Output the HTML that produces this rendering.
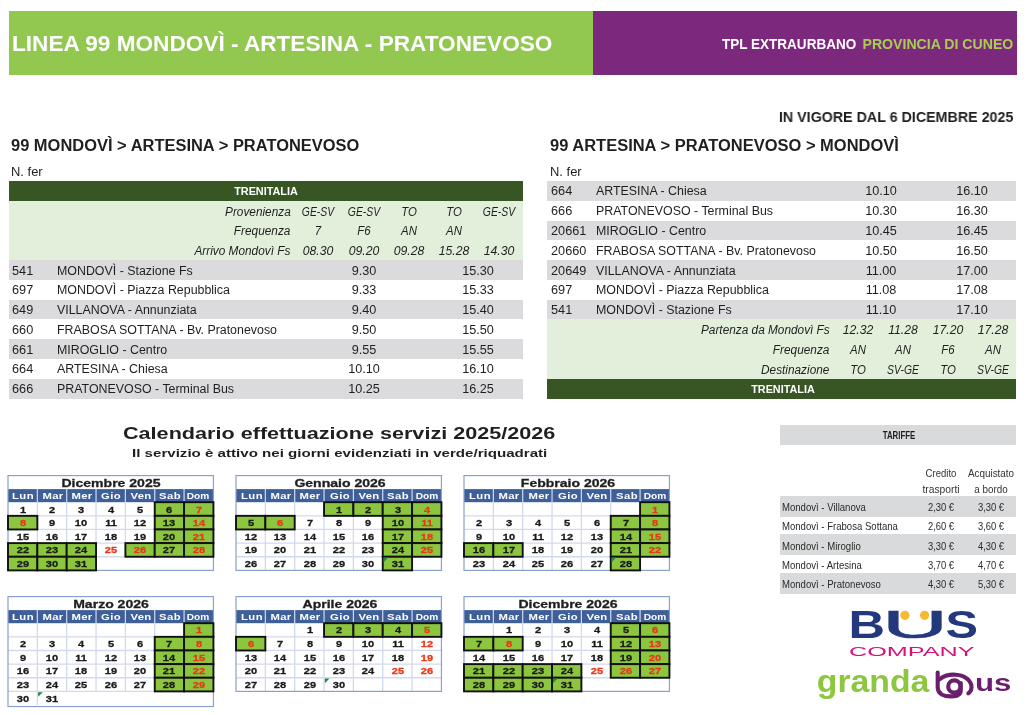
<!DOCTYPE html>
<html lang="it"><head><meta charset="utf-8"><title>Linea 99 Mondovì - Artesina - Pratonevoso</title>
<style>
html,body{margin:0;padding:0;background:#fff}
body{width:1028px;height:715px;overflow:hidden;position:relative;font-family:"Liberation Sans",sans-serif;color:#1f1f1f}
.t{position:absolute;white-space:nowrap;line-height:1;display:inline-block}
.r{position:absolute}
.cal{position:absolute;overflow:visible}
.k{-webkit-text-stroke:.3px currentColor}
header,section{display:contents}
#page{position:absolute;left:0;top:0;width:1028px;height:715px;will-change:transform}
</style></head>
<body>
<main id="page">
<header>
<div class="r" style="left:9.00px;top:11.00px;width:584.00px;height:63.50px;background:#92c850;"></div>
<div class="r" style="left:593.00px;top:11.00px;width:424.00px;height:63.50px;background:#7c287d;"></div>
<span class="t" style="top:33.32px;font-size:22.3px;font-weight:700;color:#fff;left:11.90px;transform-origin:0 0;transform:scaleX(1.0137)">LINEA 99 MONDOVÌ - ARTESINA - PRATONEVOSO</span>
<span class="t" style="top:36.30px;font-size:15px;font-weight:700;color:#fff;left:722.40px;transform-origin:0 0;transform:scaleX(0.9013)">TPL EXTRAURBANO</span>
<span class="t" style="top:36.30px;font-size:15px;font-weight:700;color:#a6cf4f;right:14.70px;transform-origin:100% 0;transform:scaleX(0.9408)">PROVINCIA DI CUNEO</span>
</header>
<span class="t" style="top:110.26px;font-size:14.7px;font-weight:700;right:14.80px;transform-origin:100% 0;transform:scaleX(0.9713)">IN VIGORE DAL 6 DICEMBRE 2025</span>
<span class="t" style="top:138.19px;font-size:15.6px;font-weight:700;left:11.20px;transform-origin:0 0;transform:scaleX(1.0552)">99 MONDOVÌ &gt; ARTESINA &gt; PRATONEVOSO</span>
<span class="t" style="top:138.19px;font-size:15.6px;font-weight:700;left:550.00px;transform-origin:0 0;transform:scaleX(1.0567)">99 ARTESINA &gt; PRATONEVOSO &gt; MONDOVÌ</span>
<span class="t" style="top:166.24px;font-size:12px;left:10.70px;transform-origin:0 0;transform:scaleX(1.0800)">N. fer</span>
<span class="t" style="top:166.24px;font-size:12px;left:549.60px;transform-origin:0 0;transform:scaleX(1.0800)">N. fer</span>
<section id="andata">
<div class="r" style="left:9.00px;top:181.00px;width:514.00px;height:20.78px;background:#375623;"></div>
<span class="t" style="top:185.79px;font-size:11px;font-weight:700;color:#fff;left:266.30px;transform-origin:50% 0;transform:translateX(-50%) scaleX(0.9850)">TRENITALIA</span>
<div class="r" style="left:9.00px;top:200.78px;width:514.00px;height:60.34px;background:#e2efda;"></div>
<span class="t" style="top:205.62px;font-size:12.0px;font-style:italic;right:737.30px;transform-origin:100% 0;transform:scaleX(0.9850)">Provenienza</span>
<span class="t" style="top:205.62px;font-size:12.0px;font-style:italic;left:318.00px;transform-origin:50% 0;transform:translateX(-50%) scaleX(0.8650)">GE-SV</span>
<span class="t" style="top:205.62px;font-size:12.0px;font-style:italic;left:363.70px;transform-origin:50% 0;transform:translateX(-50%) scaleX(0.8650)">GE-SV</span>
<span class="t" style="top:205.62px;font-size:12.0px;font-style:italic;left:408.50px;transform-origin:50% 0;transform:translateX(-50%) scaleX(0.9500)">TO</span>
<span class="t" style="top:205.62px;font-size:12.0px;font-style:italic;left:454.20px;transform-origin:50% 0;transform:translateX(-50%) scaleX(0.9500)">TO</span>
<span class="t" style="top:205.62px;font-size:12.0px;font-style:italic;left:499.20px;transform-origin:50% 0;transform:translateX(-50%) scaleX(0.8650)">GE-SV</span>
<span class="t" style="top:225.40px;font-size:12.0px;font-style:italic;right:737.30px;transform-origin:100% 0;transform:scaleX(0.9850)">Frequenza</span>
<span class="t" style="top:225.40px;font-size:12.0px;font-style:italic;left:318.00px;transform-origin:50% 0;transform:translateX(-50%) scaleX(0.9500)">7</span>
<span class="t" style="top:225.40px;font-size:12.0px;font-style:italic;left:363.70px;transform-origin:50% 0;transform:translateX(-50%) scaleX(0.9500)">F6</span>
<span class="t" style="top:225.40px;font-size:12.0px;font-style:italic;left:408.50px;transform-origin:50% 0;transform:translateX(-50%) scaleX(0.9500)">AN</span>
<span class="t" style="top:225.40px;font-size:12.0px;font-style:italic;left:454.20px;transform-origin:50% 0;transform:translateX(-50%) scaleX(0.9500)">AN</span>
<span class="t" style="top:245.18px;font-size:12.0px;font-style:italic;right:737.30px;transform-origin:100% 0;transform:scaleX(0.9850)">Arrivo Mondovì Fs</span>
<span class="t" style="top:245.18px;font-size:12.0px;font-style:italic;left:318.00px;transform-origin:50% 0;transform:translateX(-50%) scaleX(1.0200)">08.30</span>
<span class="t" style="top:245.18px;font-size:12.0px;font-style:italic;left:363.70px;transform-origin:50% 0;transform:translateX(-50%) scaleX(1.0200)">09.20</span>
<span class="t" style="top:245.18px;font-size:12.0px;font-style:italic;left:408.50px;transform-origin:50% 0;transform:translateX(-50%) scaleX(1.0200)">09.28</span>
<span class="t" style="top:245.18px;font-size:12.0px;font-style:italic;left:454.20px;transform-origin:50% 0;transform:translateX(-50%) scaleX(1.0200)">15.28</span>
<span class="t" style="top:245.18px;font-size:12.0px;font-style:italic;left:499.20px;transform-origin:50% 0;transform:translateX(-50%) scaleX(1.0200)">14.30</span>
<div class="r" style="left:9.00px;top:260.12px;width:514.00px;height:19.78px;background:#dbdbdd;"></div>
<span class="t" style="top:264.56px;font-size:12.0px;left:11.70px;transform-origin:0 0;transform:scaleX(1.0600)">541</span>
<span class="t" style="top:264.56px;font-size:12.0px;left:57.00px;transform-origin:0 0;transform:scaleX(1.0330)">MONDOVÌ - Stazione Fs</span>
<span class="t" style="top:264.56px;font-size:12.0px;left:364.20px;transform-origin:50% 0;transform:translateX(-50%) scaleX(1.0550)">9.30</span>
<span class="t" style="top:264.56px;font-size:12.0px;left:478.00px;transform-origin:50% 0;transform:translateX(-50%) scaleX(1.0550)">15.30</span>
<span class="t" style="top:284.34px;font-size:12.0px;left:11.70px;transform-origin:0 0;transform:scaleX(1.0600)">697</span>
<span class="t" style="top:284.34px;font-size:12.0px;left:57.00px;transform-origin:0 0;transform:scaleX(1.0330)">MONDOVÌ - Piazza Repubblica</span>
<span class="t" style="top:284.34px;font-size:12.0px;left:364.20px;transform-origin:50% 0;transform:translateX(-50%) scaleX(1.0550)">9.33</span>
<span class="t" style="top:284.34px;font-size:12.0px;left:478.00px;transform-origin:50% 0;transform:translateX(-50%) scaleX(1.0550)">15.33</span>
<div class="r" style="left:9.00px;top:299.68px;width:514.00px;height:19.78px;background:#dbdbdd;"></div>
<span class="t" style="top:304.12px;font-size:12.0px;left:11.70px;transform-origin:0 0;transform:scaleX(1.0600)">649</span>
<span class="t" style="top:304.12px;font-size:12.0px;left:57.00px;transform-origin:0 0;transform:scaleX(1.0330)">VILLANOVA - Annunziata</span>
<span class="t" style="top:304.12px;font-size:12.0px;left:364.20px;transform-origin:50% 0;transform:translateX(-50%) scaleX(1.0550)">9.40</span>
<span class="t" style="top:304.12px;font-size:12.0px;left:478.00px;transform-origin:50% 0;transform:translateX(-50%) scaleX(1.0550)">15.40</span>
<span class="t" style="top:323.90px;font-size:12.0px;left:11.70px;transform-origin:0 0;transform:scaleX(1.0600)">660</span>
<span class="t" style="top:323.90px;font-size:12.0px;left:57.00px;transform-origin:0 0;transform:scaleX(1.0330)">FRABOSA SOTTANA - Bv. Pratonevoso</span>
<span class="t" style="top:323.90px;font-size:12.0px;left:364.20px;transform-origin:50% 0;transform:translateX(-50%) scaleX(1.0550)">9.50</span>
<span class="t" style="top:323.90px;font-size:12.0px;left:478.00px;transform-origin:50% 0;transform:translateX(-50%) scaleX(1.0550)">15.50</span>
<div class="r" style="left:9.00px;top:339.24px;width:514.00px;height:19.78px;background:#dbdbdd;"></div>
<span class="t" style="top:343.68px;font-size:12.0px;left:11.70px;transform-origin:0 0;transform:scaleX(1.0600)">661</span>
<span class="t" style="top:343.68px;font-size:12.0px;left:57.00px;transform-origin:0 0;transform:scaleX(1.0330)">MIROGLIO - Centro</span>
<span class="t" style="top:343.68px;font-size:12.0px;left:364.20px;transform-origin:50% 0;transform:translateX(-50%) scaleX(1.0550)">9.55</span>
<span class="t" style="top:343.68px;font-size:12.0px;left:478.00px;transform-origin:50% 0;transform:translateX(-50%) scaleX(1.0550)">15.55</span>
<span class="t" style="top:363.46px;font-size:12.0px;left:11.70px;transform-origin:0 0;transform:scaleX(1.0600)">664</span>
<span class="t" style="top:363.46px;font-size:12.0px;left:57.00px;transform-origin:0 0;transform:scaleX(1.0330)">ARTESINA - Chiesa</span>
<span class="t" style="top:363.46px;font-size:12.0px;left:364.20px;transform-origin:50% 0;transform:translateX(-50%) scaleX(1.0550)">10.10</span>
<span class="t" style="top:363.46px;font-size:12.0px;left:478.00px;transform-origin:50% 0;transform:translateX(-50%) scaleX(1.0550)">16.10</span>
<div class="r" style="left:9.00px;top:378.80px;width:514.00px;height:19.78px;background:#dbdbdd;"></div>
<span class="t" style="top:383.24px;font-size:12.0px;left:11.70px;transform-origin:0 0;transform:scaleX(1.0600)">666</span>
<span class="t" style="top:383.24px;font-size:12.0px;left:57.00px;transform-origin:0 0;transform:scaleX(1.0330)">PRATONEVOSO - Terminal Bus</span>
<span class="t" style="top:383.24px;font-size:12.0px;left:364.20px;transform-origin:50% 0;transform:translateX(-50%) scaleX(1.0550)">10.25</span>
<span class="t" style="top:383.24px;font-size:12.0px;left:478.00px;transform-origin:50% 0;transform:translateX(-50%) scaleX(1.0550)">16.25</span>
</section>
<section id="ritorno">
<div class="r" style="left:547.00px;top:181.00px;width:469.00px;height:19.78px;background:#dbdbdd;"></div>
<span class="t" style="top:185.44px;font-size:12.0px;left:550.60px;transform-origin:0 0;transform:scaleX(1.0600)">664</span>
<span class="t" style="top:185.44px;font-size:12.0px;left:596.10px;transform-origin:0 0;transform:scaleX(1.0330)">ARTESINA - Chiesa</span>
<span class="t" style="top:185.44px;font-size:12.0px;left:881.20px;transform-origin:50% 0;transform:translateX(-50%) scaleX(1.0550)">10.10</span>
<span class="t" style="top:185.44px;font-size:12.0px;left:971.80px;transform-origin:50% 0;transform:translateX(-50%) scaleX(1.0550)">16.10</span>
<span class="t" style="top:205.22px;font-size:12.0px;left:550.60px;transform-origin:0 0;transform:scaleX(1.0600)">666</span>
<span class="t" style="top:205.22px;font-size:12.0px;left:596.10px;transform-origin:0 0;transform:scaleX(1.0330)">PRATONEVOSO - Terminal Bus</span>
<span class="t" style="top:205.22px;font-size:12.0px;left:881.20px;transform-origin:50% 0;transform:translateX(-50%) scaleX(1.0550)">10.30</span>
<span class="t" style="top:205.22px;font-size:12.0px;left:971.80px;transform-origin:50% 0;transform:translateX(-50%) scaleX(1.0550)">16.30</span>
<div class="r" style="left:547.00px;top:220.56px;width:469.00px;height:19.78px;background:#dbdbdd;"></div>
<span class="t" style="top:225.00px;font-size:12.0px;left:550.60px;transform-origin:0 0;transform:scaleX(1.0600)">20661</span>
<span class="t" style="top:225.00px;font-size:12.0px;left:596.10px;transform-origin:0 0;transform:scaleX(1.0330)">MIROGLIO - Centro</span>
<span class="t" style="top:225.00px;font-size:12.0px;left:881.20px;transform-origin:50% 0;transform:translateX(-50%) scaleX(1.0550)">10.45</span>
<span class="t" style="top:225.00px;font-size:12.0px;left:971.80px;transform-origin:50% 0;transform:translateX(-50%) scaleX(1.0550)">16.45</span>
<span class="t" style="top:244.78px;font-size:12.0px;left:550.60px;transform-origin:0 0;transform:scaleX(1.0600)">20660</span>
<span class="t" style="top:244.78px;font-size:12.0px;left:596.10px;transform-origin:0 0;transform:scaleX(1.0330)">FRABOSA SOTTANA - Bv. Pratonevoso</span>
<span class="t" style="top:244.78px;font-size:12.0px;left:881.20px;transform-origin:50% 0;transform:translateX(-50%) scaleX(1.0550)">10.50</span>
<span class="t" style="top:244.78px;font-size:12.0px;left:971.80px;transform-origin:50% 0;transform:translateX(-50%) scaleX(1.0550)">16.50</span>
<div class="r" style="left:547.00px;top:260.12px;width:469.00px;height:19.78px;background:#dbdbdd;"></div>
<span class="t" style="top:264.56px;font-size:12.0px;left:550.60px;transform-origin:0 0;transform:scaleX(1.0600)">20649</span>
<span class="t" style="top:264.56px;font-size:12.0px;left:596.10px;transform-origin:0 0;transform:scaleX(1.0330)">VILLANOVA - Annunziata</span>
<span class="t" style="top:264.56px;font-size:12.0px;left:881.20px;transform-origin:50% 0;transform:translateX(-50%) scaleX(1.0550)">11.00</span>
<span class="t" style="top:264.56px;font-size:12.0px;left:971.80px;transform-origin:50% 0;transform:translateX(-50%) scaleX(1.0550)">17.00</span>
<span class="t" style="top:284.34px;font-size:12.0px;left:550.60px;transform-origin:0 0;transform:scaleX(1.0600)">697</span>
<span class="t" style="top:284.34px;font-size:12.0px;left:596.10px;transform-origin:0 0;transform:scaleX(1.0330)">MONDOVÌ - Piazza Repubblica</span>
<span class="t" style="top:284.34px;font-size:12.0px;left:881.20px;transform-origin:50% 0;transform:translateX(-50%) scaleX(1.0550)">11.08</span>
<span class="t" style="top:284.34px;font-size:12.0px;left:971.80px;transform-origin:50% 0;transform:translateX(-50%) scaleX(1.0550)">17.08</span>
<div class="r" style="left:547.00px;top:299.68px;width:469.00px;height:20.78px;background:#dbdbdd;"></div>
<span class="t" style="top:304.12px;font-size:12.0px;left:550.60px;transform-origin:0 0;transform:scaleX(1.0600)">541</span>
<span class="t" style="top:304.12px;font-size:12.0px;left:596.10px;transform-origin:0 0;transform:scaleX(1.0330)">MONDOVÌ - Stazione Fs</span>
<span class="t" style="top:304.12px;font-size:12.0px;left:881.20px;transform-origin:50% 0;transform:translateX(-50%) scaleX(1.0550)">11.10</span>
<span class="t" style="top:304.12px;font-size:12.0px;left:971.80px;transform-origin:50% 0;transform:translateX(-50%) scaleX(1.0550)">17.10</span>
<div class="r" style="left:547.00px;top:319.46px;width:469.00px;height:60.34px;background:#e2efda;"></div>
<span class="t" style="top:324.30px;font-size:12.0px;font-style:italic;right:198.20px;transform-origin:100% 0;transform:scaleX(0.9850)">Partenza da Mondovì Fs</span>
<span class="t" style="top:324.30px;font-size:12.0px;font-style:italic;left:857.50px;transform-origin:50% 0;transform:translateX(-50%) scaleX(1.0200)">12.32</span>
<span class="t" style="top:324.30px;font-size:12.0px;font-style:italic;left:902.60px;transform-origin:50% 0;transform:translateX(-50%) scaleX(1.0200)">11.28</span>
<span class="t" style="top:324.30px;font-size:12.0px;font-style:italic;left:948.00px;transform-origin:50% 0;transform:translateX(-50%) scaleX(1.0200)">17.20</span>
<span class="t" style="top:324.30px;font-size:12.0px;font-style:italic;left:993.40px;transform-origin:50% 0;transform:translateX(-50%) scaleX(1.0200)">17.28</span>
<span class="t" style="top:344.08px;font-size:12.0px;font-style:italic;right:198.20px;transform-origin:100% 0;transform:scaleX(0.9850)">Frequenza</span>
<span class="t" style="top:344.08px;font-size:12.0px;font-style:italic;left:857.50px;transform-origin:50% 0;transform:translateX(-50%) scaleX(0.9500)">AN</span>
<span class="t" style="top:344.08px;font-size:12.0px;font-style:italic;left:902.60px;transform-origin:50% 0;transform:translateX(-50%) scaleX(0.9500)">AN</span>
<span class="t" style="top:344.08px;font-size:12.0px;font-style:italic;left:948.00px;transform-origin:50% 0;transform:translateX(-50%) scaleX(0.9500)">F6</span>
<span class="t" style="top:344.08px;font-size:12.0px;font-style:italic;left:993.40px;transform-origin:50% 0;transform:translateX(-50%) scaleX(0.9500)">AN</span>
<span class="t" style="top:363.86px;font-size:12.0px;font-style:italic;right:198.20px;transform-origin:100% 0;transform:scaleX(0.9850)">Destinazione</span>
<span class="t" style="top:363.86px;font-size:12.0px;font-style:italic;left:857.50px;transform-origin:50% 0;transform:translateX(-50%) scaleX(0.9500)">TO</span>
<span class="t" style="top:363.86px;font-size:12.0px;font-style:italic;left:902.60px;transform-origin:50% 0;transform:translateX(-50%) scaleX(0.8650)">SV-GE</span>
<span class="t" style="top:363.86px;font-size:12.0px;font-style:italic;left:948.00px;transform-origin:50% 0;transform:translateX(-50%) scaleX(0.9500)">TO</span>
<span class="t" style="top:363.86px;font-size:12.0px;font-style:italic;left:993.40px;transform-origin:50% 0;transform:translateX(-50%) scaleX(0.8650)">SV-GE</span>
<div class="r" style="left:547.00px;top:378.80px;width:469.00px;height:19.78px;background:#375623;"></div>
<span class="t" style="top:383.59px;font-size:11px;font-weight:700;color:#fff;left:782.60px;transform-origin:50% 0;transform:translateX(-50%) scaleX(0.9850)">TRENITALIA</span>
</section>
<section id="calendario">
<span class="t" style="top:425.85px;font-size:16.6px;font-weight:700;left:122.60px;transform-origin:0 0;transform:scaleX(1.3021)">Calendario effettuazione servizi 2025/2026</span>
<span class="t" style="top:446.98px;font-size:11.6px;font-weight:700;left:131.70px;transform-origin:0 0;transform:scaleX(1.3022)">Il servizio è attivo nei giorni evidenziati in verde/riquadrati</span>
<svg class="cal" style="left:5.60px;top:473.10px" width="209.45" height="99.40" viewBox="-2 -2 209.45 99.40"><rect x="0" y="0" width="205.45" height="95.40" fill="#fff"/><rect x="0" y="14.10" width="205.45" height="13.10" fill="#3f5f99"/><path d="M29.35 14.10v13.10M58.70 14.10v13.10M88.05 14.10v13.10M117.40 14.10v13.10M146.75 14.10v13.10M176.10 14.10v13.10" stroke="#cfdaf0" stroke-width="1.2" fill="none"/><path d="M29.35 27.20v13.64M58.70 27.20v13.64M88.05 27.20v13.64M117.40 27.20v13.64M146.75 27.20v13.64M176.10 27.20v13.64M29.35 40.84v13.64M58.70 40.84v13.64M88.05 40.84v13.64M117.40 40.84v13.64M146.75 40.84v13.64M176.10 40.84v13.64M0 40.84h205.45M29.35 54.48v13.64M58.70 54.48v13.64M88.05 54.48v13.64M117.40 54.48v13.64M146.75 54.48v13.64M176.10 54.48v13.64M0 54.48h205.45M29.35 68.12v13.64M58.70 68.12v13.64M88.05 68.12v13.64M117.40 68.12v13.64M146.75 68.12v13.64M176.10 68.12v13.64M0 68.12h205.45M29.35 81.76v13.64M58.70 81.76v13.64M0 81.76h205.45" stroke="#d3d9ee" stroke-width="1.3" fill="none"/><rect x="0" y="0.6" width="205.45" height="94.80" fill="none" stroke="#8aa0cd" stroke-width="1.2"/><rect x="146.75" y="27.20" width="29.35" height="13.64" fill="#8cc63f" stroke="#111" stroke-width="1.9"/><rect x="176.10" y="27.20" width="29.35" height="13.64" fill="#8cc63f" stroke="#111" stroke-width="1.9"/><rect x="0.00" y="40.84" width="29.35" height="13.64" fill="#8cc63f" stroke="#111" stroke-width="1.9"/><rect x="146.75" y="40.84" width="29.35" height="13.64" fill="#8cc63f" stroke="#111" stroke-width="1.9"/><rect x="176.10" y="40.84" width="29.35" height="13.64" fill="#8cc63f" stroke="#111" stroke-width="1.9"/><rect x="146.75" y="54.48" width="29.35" height="13.64" fill="#8cc63f" stroke="#111" stroke-width="1.9"/><rect x="176.10" y="54.48" width="29.35" height="13.64" fill="#8cc63f" stroke="#111" stroke-width="1.9"/><rect x="0.00" y="68.12" width="29.35" height="13.64" fill="#8cc63f" stroke="#111" stroke-width="1.9"/><rect x="29.35" y="68.12" width="29.35" height="13.64" fill="#8cc63f" stroke="#111" stroke-width="1.9"/><rect x="58.70" y="68.12" width="29.35" height="13.64" fill="#8cc63f" stroke="#111" stroke-width="1.9"/><rect x="117.40" y="68.12" width="29.35" height="13.64" fill="#8cc63f" stroke="#111" stroke-width="1.9"/><rect x="146.75" y="68.12" width="29.35" height="13.64" fill="#8cc63f" stroke="#111" stroke-width="1.9"/><rect x="176.10" y="68.12" width="29.35" height="13.64" fill="#8cc63f" stroke="#111" stroke-width="1.9"/><rect x="0.00" y="81.76" width="29.35" height="13.64" fill="#8cc63f" stroke="#111" stroke-width="1.9"/><rect x="29.35" y="81.76" width="29.35" height="13.64" fill="#8cc63f" stroke="#111" stroke-width="1.9"/><rect x="58.70" y="81.76" width="29.35" height="13.64" fill="#8cc63f" stroke="#111" stroke-width="1.9"/></svg>
<span class="t k" style="top:477.77px;font-size:10.9px;font-weight:700;left:111.33px;transform-origin:50% 0;transform:translateX(-50%) scaleX(1.2880)">Dicembre 2025</span>
<span class="t" style="top:491.71px;font-size:9.2px;font-weight:700;color:#fff;letter-spacing:0.3px;left:23.27px;transform-origin:50% 0;transform:translateX(-50%) scaleX(1.2300)">Lun</span>
<span class="t" style="top:491.71px;font-size:9.2px;font-weight:700;color:#fff;letter-spacing:0.3px;left:52.63px;transform-origin:50% 0;transform:translateX(-50%) scaleX(1.2300)">Mar</span>
<span class="t" style="top:491.71px;font-size:9.2px;font-weight:700;color:#fff;letter-spacing:0.3px;left:81.97px;transform-origin:50% 0;transform:translateX(-50%) scaleX(1.2300)">Mer</span>
<span class="t" style="top:491.71px;font-size:9.2px;font-weight:700;color:#fff;letter-spacing:0.3px;left:111.33px;transform-origin:50% 0;transform:translateX(-50%) scaleX(1.2300)">Gio</span>
<span class="t" style="top:491.71px;font-size:9.2px;font-weight:700;color:#fff;letter-spacing:0.3px;left:140.68px;transform-origin:50% 0;transform:translateX(-50%) scaleX(1.2300)">Ven</span>
<span class="t" style="top:491.71px;font-size:9.2px;font-weight:700;color:#fff;letter-spacing:0.3px;left:170.03px;transform-origin:50% 0;transform:translateX(-50%) scaleX(1.2300)">Sab</span>
<span class="t" style="top:491.99px;font-size:8.4px;font-weight:700;color:#fff;left:198.38px;transform-origin:50% 0;transform:translateX(-50%) scaleX(1.2107)">Dom</span>
<span class="t k" style="top:504.52px;font-size:9.9px;font-weight:700;color:#1a1a1a;left:22.57px;transform-origin:50% 0;transform:translateX(-50%) scaleX(1.1200)">1</span>
<span class="t k" style="top:504.52px;font-size:9.9px;font-weight:700;color:#1a1a1a;left:51.93px;transform-origin:50% 0;transform:translateX(-50%) scaleX(1.1200)">2</span>
<span class="t k" style="top:504.52px;font-size:9.9px;font-weight:700;color:#1a1a1a;left:81.27px;transform-origin:50% 0;transform:translateX(-50%) scaleX(1.1200)">3</span>
<span class="t k" style="top:504.52px;font-size:9.9px;font-weight:700;color:#1a1a1a;left:110.62px;transform-origin:50% 0;transform:translateX(-50%) scaleX(1.1200)">4</span>
<span class="t k" style="top:504.52px;font-size:9.9px;font-weight:700;color:#1a1a1a;left:139.98px;transform-origin:50% 0;transform:translateX(-50%) scaleX(1.1200)">5</span>
<span class="t k" style="top:504.52px;font-size:9.9px;font-weight:700;color:#1a1a1a;left:169.33px;transform-origin:50% 0;transform:translateX(-50%) scaleX(1.1200)">6</span>
<span class="t k" style="top:504.52px;font-size:9.9px;font-weight:700;color:#e8381b;left:198.68px;transform-origin:50% 0;transform:translateX(-50%) scaleX(1.1200)">7</span>
<span class="t k" style="top:518.16px;font-size:9.9px;font-weight:700;color:#e8381b;left:22.57px;transform-origin:50% 0;transform:translateX(-50%) scaleX(1.1200)">8</span>
<span class="t k" style="top:518.16px;font-size:9.9px;font-weight:700;color:#1a1a1a;left:51.93px;transform-origin:50% 0;transform:translateX(-50%) scaleX(1.1200)">9</span>
<span class="t k" style="top:518.16px;font-size:9.9px;font-weight:700;color:#1a1a1a;left:81.27px;transform-origin:50% 0;transform:translateX(-50%) scaleX(1.1200)">10</span>
<span class="t k" style="top:518.16px;font-size:9.9px;font-weight:700;color:#1a1a1a;left:110.62px;transform-origin:50% 0;transform:translateX(-50%) scaleX(1.1200)">11</span>
<span class="t k" style="top:518.16px;font-size:9.9px;font-weight:700;color:#1a1a1a;left:139.98px;transform-origin:50% 0;transform:translateX(-50%) scaleX(1.1200)">12</span>
<span class="t k" style="top:518.16px;font-size:9.9px;font-weight:700;color:#1a1a1a;left:169.33px;transform-origin:50% 0;transform:translateX(-50%) scaleX(1.1200)">13</span>
<span class="t k" style="top:518.16px;font-size:9.9px;font-weight:700;color:#e8381b;left:198.68px;transform-origin:50% 0;transform:translateX(-50%) scaleX(1.1200)">14</span>
<span class="t k" style="top:531.80px;font-size:9.9px;font-weight:700;color:#1a1a1a;left:22.57px;transform-origin:50% 0;transform:translateX(-50%) scaleX(1.1200)">15</span>
<span class="t k" style="top:531.80px;font-size:9.9px;font-weight:700;color:#1a1a1a;left:51.93px;transform-origin:50% 0;transform:translateX(-50%) scaleX(1.1200)">16</span>
<span class="t k" style="top:531.80px;font-size:9.9px;font-weight:700;color:#1a1a1a;left:81.27px;transform-origin:50% 0;transform:translateX(-50%) scaleX(1.1200)">17</span>
<span class="t k" style="top:531.80px;font-size:9.9px;font-weight:700;color:#1a1a1a;left:110.62px;transform-origin:50% 0;transform:translateX(-50%) scaleX(1.1200)">18</span>
<span class="t k" style="top:531.80px;font-size:9.9px;font-weight:700;color:#1a1a1a;left:139.98px;transform-origin:50% 0;transform:translateX(-50%) scaleX(1.1200)">19</span>
<span class="t k" style="top:531.80px;font-size:9.9px;font-weight:700;color:#1a1a1a;left:169.33px;transform-origin:50% 0;transform:translateX(-50%) scaleX(1.1200)">20</span>
<span class="t k" style="top:531.80px;font-size:9.9px;font-weight:700;color:#e8381b;left:198.68px;transform-origin:50% 0;transform:translateX(-50%) scaleX(1.1200)">21</span>
<span class="t k" style="top:545.44px;font-size:9.9px;font-weight:700;color:#1a1a1a;left:22.57px;transform-origin:50% 0;transform:translateX(-50%) scaleX(1.1200)">22</span>
<span class="t k" style="top:545.44px;font-size:9.9px;font-weight:700;color:#1a1a1a;left:51.93px;transform-origin:50% 0;transform:translateX(-50%) scaleX(1.1200)">23</span>
<span class="t k" style="top:545.44px;font-size:9.9px;font-weight:700;color:#1a1a1a;left:81.27px;transform-origin:50% 0;transform:translateX(-50%) scaleX(1.1200)">24</span>
<span class="t k" style="top:545.44px;font-size:9.9px;font-weight:700;color:#e8381b;left:110.62px;transform-origin:50% 0;transform:translateX(-50%) scaleX(1.1200)">25</span>
<span class="t k" style="top:545.44px;font-size:9.9px;font-weight:700;color:#e8381b;left:139.98px;transform-origin:50% 0;transform:translateX(-50%) scaleX(1.1200)">26</span>
<span class="t k" style="top:545.44px;font-size:9.9px;font-weight:700;color:#1a1a1a;left:169.33px;transform-origin:50% 0;transform:translateX(-50%) scaleX(1.1200)">27</span>
<span class="t k" style="top:545.44px;font-size:9.9px;font-weight:700;color:#e8381b;left:198.68px;transform-origin:50% 0;transform:translateX(-50%) scaleX(1.1200)">28</span>
<span class="t k" style="top:559.08px;font-size:9.9px;font-weight:700;color:#1a1a1a;left:22.57px;transform-origin:50% 0;transform:translateX(-50%) scaleX(1.1200)">29</span>
<span class="t k" style="top:559.08px;font-size:9.9px;font-weight:700;color:#1a1a1a;left:51.93px;transform-origin:50% 0;transform:translateX(-50%) scaleX(1.1200)">30</span>
<span class="t k" style="top:559.08px;font-size:9.9px;font-weight:700;color:#1a1a1a;left:81.27px;transform-origin:50% 0;transform:translateX(-50%) scaleX(1.1200)">31</span>
<svg class="cal" style="left:234.00px;top:473.10px" width="209.45" height="99.40" viewBox="-2 -2 209.45 99.40"><rect x="0" y="0" width="205.45" height="95.40" fill="#fff"/><rect x="0" y="14.10" width="205.45" height="13.10" fill="#3f5f99"/><path d="M29.35 14.10v13.10M58.70 14.10v13.10M88.05 14.10v13.10M117.40 14.10v13.10M146.75 14.10v13.10M176.10 14.10v13.10" stroke="#cfdaf0" stroke-width="1.2" fill="none"/><path d="M29.35 27.20v13.64M58.70 27.20v13.64M88.05 27.20v13.64M117.40 27.20v13.64M146.75 27.20v13.64M176.10 27.20v13.64M29.35 40.84v13.64M58.70 40.84v13.64M88.05 40.84v13.64M117.40 40.84v13.64M146.75 40.84v13.64M176.10 40.84v13.64M0 40.84h205.45M29.35 54.48v13.64M58.70 54.48v13.64M88.05 54.48v13.64M117.40 54.48v13.64M146.75 54.48v13.64M176.10 54.48v13.64M0 54.48h205.45M29.35 68.12v13.64M58.70 68.12v13.64M88.05 68.12v13.64M117.40 68.12v13.64M146.75 68.12v13.64M176.10 68.12v13.64M0 68.12h205.45M29.35 81.76v13.64M58.70 81.76v13.64M88.05 81.76v13.64M117.40 81.76v13.64M146.75 81.76v13.64M176.10 81.76v13.64M0 81.76h205.45" stroke="#d3d9ee" stroke-width="1.3" fill="none"/><rect x="0" y="0.6" width="205.45" height="94.80" fill="none" stroke="#8aa0cd" stroke-width="1.2"/><rect x="88.05" y="27.20" width="29.35" height="13.64" fill="#8cc63f" stroke="#111" stroke-width="1.9"/><rect x="117.40" y="27.20" width="29.35" height="13.64" fill="#8cc63f" stroke="#111" stroke-width="1.9"/><rect x="146.75" y="27.20" width="29.35" height="13.64" fill="#8cc63f" stroke="#111" stroke-width="1.9"/><rect x="176.10" y="27.20" width="29.35" height="13.64" fill="#8cc63f" stroke="#111" stroke-width="1.9"/><rect x="0.00" y="40.84" width="29.35" height="13.64" fill="#8cc63f" stroke="#111" stroke-width="1.9"/><rect x="29.35" y="40.84" width="29.35" height="13.64" fill="#8cc63f" stroke="#111" stroke-width="1.9"/><rect x="146.75" y="40.84" width="29.35" height="13.64" fill="#8cc63f" stroke="#111" stroke-width="1.9"/><rect x="176.10" y="40.84" width="29.35" height="13.64" fill="#8cc63f" stroke="#111" stroke-width="1.9"/><rect x="146.75" y="54.48" width="29.35" height="13.64" fill="#8cc63f" stroke="#111" stroke-width="1.9"/><rect x="176.10" y="54.48" width="29.35" height="13.64" fill="#8cc63f" stroke="#111" stroke-width="1.9"/><rect x="146.75" y="68.12" width="29.35" height="13.64" fill="#8cc63f" stroke="#111" stroke-width="1.9"/><rect x="176.10" y="68.12" width="29.35" height="13.64" fill="#8cc63f" stroke="#111" stroke-width="1.9"/><rect x="146.75" y="81.76" width="29.35" height="13.64" fill="#8cc63f" stroke="#111" stroke-width="1.9"/><path d="M147.55 82.56h4.6l-4.6 4.6z" fill="#1e8449"/></svg>
<span class="t k" style="top:477.77px;font-size:10.9px;font-weight:700;left:339.73px;transform-origin:50% 0;transform:translateX(-50%) scaleX(1.2880)">Gennaio 2026</span>
<span class="t" style="top:491.71px;font-size:9.2px;font-weight:700;color:#fff;letter-spacing:0.3px;left:251.68px;transform-origin:50% 0;transform:translateX(-50%) scaleX(1.2300)">Lun</span>
<span class="t" style="top:491.71px;font-size:9.2px;font-weight:700;color:#fff;letter-spacing:0.3px;left:281.02px;transform-origin:50% 0;transform:translateX(-50%) scaleX(1.2300)">Mar</span>
<span class="t" style="top:491.71px;font-size:9.2px;font-weight:700;color:#fff;letter-spacing:0.3px;left:310.38px;transform-origin:50% 0;transform:translateX(-50%) scaleX(1.2300)">Mer</span>
<span class="t" style="top:491.71px;font-size:9.2px;font-weight:700;color:#fff;letter-spacing:0.3px;left:339.73px;transform-origin:50% 0;transform:translateX(-50%) scaleX(1.2300)">Gio</span>
<span class="t" style="top:491.71px;font-size:9.2px;font-weight:700;color:#fff;letter-spacing:0.3px;left:369.08px;transform-origin:50% 0;transform:translateX(-50%) scaleX(1.2300)">Ven</span>
<span class="t" style="top:491.71px;font-size:9.2px;font-weight:700;color:#fff;letter-spacing:0.3px;left:398.43px;transform-origin:50% 0;transform:translateX(-50%) scaleX(1.2300)">Sab</span>
<span class="t" style="top:491.99px;font-size:8.4px;font-weight:700;color:#fff;left:426.77px;transform-origin:50% 0;transform:translateX(-50%) scaleX(1.2107)">Dom</span>
<span class="t k" style="top:504.52px;font-size:9.9px;font-weight:700;color:#1a1a1a;left:339.03px;transform-origin:50% 0;transform:translateX(-50%) scaleX(1.1200)">1</span>
<span class="t k" style="top:504.52px;font-size:9.9px;font-weight:700;color:#1a1a1a;left:368.38px;transform-origin:50% 0;transform:translateX(-50%) scaleX(1.1200)">2</span>
<span class="t k" style="top:504.52px;font-size:9.9px;font-weight:700;color:#1a1a1a;left:397.73px;transform-origin:50% 0;transform:translateX(-50%) scaleX(1.1200)">3</span>
<span class="t k" style="top:504.52px;font-size:9.9px;font-weight:700;color:#e8381b;left:427.07px;transform-origin:50% 0;transform:translateX(-50%) scaleX(1.1200)">4</span>
<span class="t k" style="top:518.16px;font-size:9.9px;font-weight:700;color:#1a1a1a;left:250.98px;transform-origin:50% 0;transform:translateX(-50%) scaleX(1.1200)">5</span>
<span class="t k" style="top:518.16px;font-size:9.9px;font-weight:700;color:#e8381b;left:280.32px;transform-origin:50% 0;transform:translateX(-50%) scaleX(1.1200)">6</span>
<span class="t k" style="top:518.16px;font-size:9.9px;font-weight:700;color:#1a1a1a;left:309.68px;transform-origin:50% 0;transform:translateX(-50%) scaleX(1.1200)">7</span>
<span class="t k" style="top:518.16px;font-size:9.9px;font-weight:700;color:#1a1a1a;left:339.03px;transform-origin:50% 0;transform:translateX(-50%) scaleX(1.1200)">8</span>
<span class="t k" style="top:518.16px;font-size:9.9px;font-weight:700;color:#1a1a1a;left:368.38px;transform-origin:50% 0;transform:translateX(-50%) scaleX(1.1200)">9</span>
<span class="t k" style="top:518.16px;font-size:9.9px;font-weight:700;color:#1a1a1a;left:397.73px;transform-origin:50% 0;transform:translateX(-50%) scaleX(1.1200)">10</span>
<span class="t k" style="top:518.16px;font-size:9.9px;font-weight:700;color:#e8381b;left:427.07px;transform-origin:50% 0;transform:translateX(-50%) scaleX(1.1200)">11</span>
<span class="t k" style="top:531.80px;font-size:9.9px;font-weight:700;color:#1a1a1a;left:250.98px;transform-origin:50% 0;transform:translateX(-50%) scaleX(1.1200)">12</span>
<span class="t k" style="top:531.80px;font-size:9.9px;font-weight:700;color:#1a1a1a;left:280.32px;transform-origin:50% 0;transform:translateX(-50%) scaleX(1.1200)">13</span>
<span class="t k" style="top:531.80px;font-size:9.9px;font-weight:700;color:#1a1a1a;left:309.68px;transform-origin:50% 0;transform:translateX(-50%) scaleX(1.1200)">14</span>
<span class="t k" style="top:531.80px;font-size:9.9px;font-weight:700;color:#1a1a1a;left:339.03px;transform-origin:50% 0;transform:translateX(-50%) scaleX(1.1200)">15</span>
<span class="t k" style="top:531.80px;font-size:9.9px;font-weight:700;color:#1a1a1a;left:368.38px;transform-origin:50% 0;transform:translateX(-50%) scaleX(1.1200)">16</span>
<span class="t k" style="top:531.80px;font-size:9.9px;font-weight:700;color:#1a1a1a;left:397.73px;transform-origin:50% 0;transform:translateX(-50%) scaleX(1.1200)">17</span>
<span class="t k" style="top:531.80px;font-size:9.9px;font-weight:700;color:#e8381b;left:427.07px;transform-origin:50% 0;transform:translateX(-50%) scaleX(1.1200)">18</span>
<span class="t k" style="top:545.44px;font-size:9.9px;font-weight:700;color:#1a1a1a;left:250.98px;transform-origin:50% 0;transform:translateX(-50%) scaleX(1.1200)">19</span>
<span class="t k" style="top:545.44px;font-size:9.9px;font-weight:700;color:#1a1a1a;left:280.32px;transform-origin:50% 0;transform:translateX(-50%) scaleX(1.1200)">20</span>
<span class="t k" style="top:545.44px;font-size:9.9px;font-weight:700;color:#1a1a1a;left:309.68px;transform-origin:50% 0;transform:translateX(-50%) scaleX(1.1200)">21</span>
<span class="t k" style="top:545.44px;font-size:9.9px;font-weight:700;color:#1a1a1a;left:339.03px;transform-origin:50% 0;transform:translateX(-50%) scaleX(1.1200)">22</span>
<span class="t k" style="top:545.44px;font-size:9.9px;font-weight:700;color:#1a1a1a;left:368.38px;transform-origin:50% 0;transform:translateX(-50%) scaleX(1.1200)">23</span>
<span class="t k" style="top:545.44px;font-size:9.9px;font-weight:700;color:#1a1a1a;left:397.73px;transform-origin:50% 0;transform:translateX(-50%) scaleX(1.1200)">24</span>
<span class="t k" style="top:545.44px;font-size:9.9px;font-weight:700;color:#e8381b;left:427.07px;transform-origin:50% 0;transform:translateX(-50%) scaleX(1.1200)">25</span>
<span class="t k" style="top:559.08px;font-size:9.9px;font-weight:700;color:#1a1a1a;left:250.98px;transform-origin:50% 0;transform:translateX(-50%) scaleX(1.1200)">26</span>
<span class="t k" style="top:559.08px;font-size:9.9px;font-weight:700;color:#1a1a1a;left:280.32px;transform-origin:50% 0;transform:translateX(-50%) scaleX(1.1200)">27</span>
<span class="t k" style="top:559.08px;font-size:9.9px;font-weight:700;color:#1a1a1a;left:309.68px;transform-origin:50% 0;transform:translateX(-50%) scaleX(1.1200)">28</span>
<span class="t k" style="top:559.08px;font-size:9.9px;font-weight:700;color:#1a1a1a;left:339.03px;transform-origin:50% 0;transform:translateX(-50%) scaleX(1.1200)">29</span>
<span class="t k" style="top:559.08px;font-size:9.9px;font-weight:700;color:#1a1a1a;left:368.38px;transform-origin:50% 0;transform:translateX(-50%) scaleX(1.1200)">30</span>
<span class="t k" style="top:559.08px;font-size:9.9px;font-weight:700;color:#1a1a1a;left:397.73px;transform-origin:50% 0;transform:translateX(-50%) scaleX(1.1200)">31</span>
<svg class="cal" style="left:462.20px;top:473.10px" width="209.45" height="99.40" viewBox="-2 -2 209.45 99.40"><rect x="0" y="0" width="205.45" height="95.40" fill="#fff"/><rect x="0" y="14.10" width="205.45" height="13.10" fill="#3f5f99"/><path d="M29.35 14.10v13.10M58.70 14.10v13.10M88.05 14.10v13.10M117.40 14.10v13.10M146.75 14.10v13.10M176.10 14.10v13.10" stroke="#cfdaf0" stroke-width="1.2" fill="none"/><path d="M29.35 27.20v13.64M58.70 27.20v13.64M88.05 27.20v13.64M117.40 27.20v13.64M146.75 27.20v13.64M176.10 27.20v13.64M29.35 40.84v13.64M58.70 40.84v13.64M88.05 40.84v13.64M117.40 40.84v13.64M146.75 40.84v13.64M176.10 40.84v13.64M0 40.84h205.45M29.35 54.48v13.64M58.70 54.48v13.64M88.05 54.48v13.64M117.40 54.48v13.64M146.75 54.48v13.64M176.10 54.48v13.64M0 54.48h205.45M29.35 68.12v13.64M58.70 68.12v13.64M88.05 68.12v13.64M117.40 68.12v13.64M146.75 68.12v13.64M176.10 68.12v13.64M0 68.12h205.45M29.35 81.76v13.64M58.70 81.76v13.64M88.05 81.76v13.64M117.40 81.76v13.64M146.75 81.76v13.64M176.10 81.76v13.64M0 81.76h205.45" stroke="#d3d9ee" stroke-width="1.3" fill="none"/><rect x="0" y="0.6" width="205.45" height="94.80" fill="none" stroke="#8aa0cd" stroke-width="1.2"/><rect x="176.10" y="27.20" width="29.35" height="13.64" fill="#8cc63f" stroke="#111" stroke-width="1.9"/><rect x="146.75" y="40.84" width="29.35" height="13.64" fill="#8cc63f" stroke="#111" stroke-width="1.9"/><rect x="176.10" y="40.84" width="29.35" height="13.64" fill="#8cc63f" stroke="#111" stroke-width="1.9"/><rect x="146.75" y="54.48" width="29.35" height="13.64" fill="#8cc63f" stroke="#111" stroke-width="1.9"/><rect x="176.10" y="54.48" width="29.35" height="13.64" fill="#8cc63f" stroke="#111" stroke-width="1.9"/><rect x="0.00" y="68.12" width="29.35" height="13.64" fill="#8cc63f" stroke="#111" stroke-width="1.9"/><rect x="29.35" y="68.12" width="29.35" height="13.64" fill="#8cc63f" stroke="#111" stroke-width="1.9"/><rect x="146.75" y="68.12" width="29.35" height="13.64" fill="#8cc63f" stroke="#111" stroke-width="1.9"/><rect x="176.10" y="68.12" width="29.35" height="13.64" fill="#8cc63f" stroke="#111" stroke-width="1.9"/><rect x="146.75" y="81.76" width="29.35" height="13.64" fill="#8cc63f" stroke="#111" stroke-width="1.9"/><path d="M147.55 82.56h4.6l-4.6 4.6z" fill="#1e8449"/></svg>
<span class="t k" style="top:477.77px;font-size:10.9px;font-weight:700;left:567.92px;transform-origin:50% 0;transform:translateX(-50%) scaleX(1.2880)">Febbraio 2026</span>
<span class="t" style="top:491.71px;font-size:9.2px;font-weight:700;color:#fff;letter-spacing:0.3px;left:479.88px;transform-origin:50% 0;transform:translateX(-50%) scaleX(1.2300)">Lun</span>
<span class="t" style="top:491.71px;font-size:9.2px;font-weight:700;color:#fff;letter-spacing:0.3px;left:509.23px;transform-origin:50% 0;transform:translateX(-50%) scaleX(1.2300)">Mar</span>
<span class="t" style="top:491.71px;font-size:9.2px;font-weight:700;color:#fff;letter-spacing:0.3px;left:538.58px;transform-origin:50% 0;transform:translateX(-50%) scaleX(1.2300)">Mer</span>
<span class="t" style="top:491.71px;font-size:9.2px;font-weight:700;color:#fff;letter-spacing:0.3px;left:567.92px;transform-origin:50% 0;transform:translateX(-50%) scaleX(1.2300)">Gio</span>
<span class="t" style="top:491.71px;font-size:9.2px;font-weight:700;color:#fff;letter-spacing:0.3px;left:597.27px;transform-origin:50% 0;transform:translateX(-50%) scaleX(1.2300)">Ven</span>
<span class="t" style="top:491.71px;font-size:9.2px;font-weight:700;color:#fff;letter-spacing:0.3px;left:626.62px;transform-origin:50% 0;transform:translateX(-50%) scaleX(1.2300)">Sab</span>
<span class="t" style="top:491.99px;font-size:8.4px;font-weight:700;color:#fff;left:654.98px;transform-origin:50% 0;transform:translateX(-50%) scaleX(1.2107)">Dom</span>
<span class="t k" style="top:504.52px;font-size:9.9px;font-weight:700;color:#e8381b;left:655.27px;transform-origin:50% 0;transform:translateX(-50%) scaleX(1.1200)">1</span>
<span class="t k" style="top:518.16px;font-size:9.9px;font-weight:700;color:#1a1a1a;left:479.18px;transform-origin:50% 0;transform:translateX(-50%) scaleX(1.1200)">2</span>
<span class="t k" style="top:518.16px;font-size:9.9px;font-weight:700;color:#1a1a1a;left:508.53px;transform-origin:50% 0;transform:translateX(-50%) scaleX(1.1200)">3</span>
<span class="t k" style="top:518.16px;font-size:9.9px;font-weight:700;color:#1a1a1a;left:537.88px;transform-origin:50% 0;transform:translateX(-50%) scaleX(1.1200)">4</span>
<span class="t k" style="top:518.16px;font-size:9.9px;font-weight:700;color:#1a1a1a;left:567.22px;transform-origin:50% 0;transform:translateX(-50%) scaleX(1.1200)">5</span>
<span class="t k" style="top:518.16px;font-size:9.9px;font-weight:700;color:#1a1a1a;left:596.57px;transform-origin:50% 0;transform:translateX(-50%) scaleX(1.1200)">6</span>
<span class="t k" style="top:518.16px;font-size:9.9px;font-weight:700;color:#1a1a1a;left:625.92px;transform-origin:50% 0;transform:translateX(-50%) scaleX(1.1200)">7</span>
<span class="t k" style="top:518.16px;font-size:9.9px;font-weight:700;color:#e8381b;left:655.27px;transform-origin:50% 0;transform:translateX(-50%) scaleX(1.1200)">8</span>
<span class="t k" style="top:531.80px;font-size:9.9px;font-weight:700;color:#1a1a1a;left:479.18px;transform-origin:50% 0;transform:translateX(-50%) scaleX(1.1200)">9</span>
<span class="t k" style="top:531.80px;font-size:9.9px;font-weight:700;color:#1a1a1a;left:508.53px;transform-origin:50% 0;transform:translateX(-50%) scaleX(1.1200)">10</span>
<span class="t k" style="top:531.80px;font-size:9.9px;font-weight:700;color:#1a1a1a;left:537.88px;transform-origin:50% 0;transform:translateX(-50%) scaleX(1.1200)">11</span>
<span class="t k" style="top:531.80px;font-size:9.9px;font-weight:700;color:#1a1a1a;left:567.22px;transform-origin:50% 0;transform:translateX(-50%) scaleX(1.1200)">12</span>
<span class="t k" style="top:531.80px;font-size:9.9px;font-weight:700;color:#1a1a1a;left:596.57px;transform-origin:50% 0;transform:translateX(-50%) scaleX(1.1200)">13</span>
<span class="t k" style="top:531.80px;font-size:9.9px;font-weight:700;color:#1a1a1a;left:625.92px;transform-origin:50% 0;transform:translateX(-50%) scaleX(1.1200)">14</span>
<span class="t k" style="top:531.80px;font-size:9.9px;font-weight:700;color:#e8381b;left:655.27px;transform-origin:50% 0;transform:translateX(-50%) scaleX(1.1200)">15</span>
<span class="t k" style="top:545.44px;font-size:9.9px;font-weight:700;color:#1a1a1a;left:479.18px;transform-origin:50% 0;transform:translateX(-50%) scaleX(1.1200)">16</span>
<span class="t k" style="top:545.44px;font-size:9.9px;font-weight:700;color:#1a1a1a;left:508.53px;transform-origin:50% 0;transform:translateX(-50%) scaleX(1.1200)">17</span>
<span class="t k" style="top:545.44px;font-size:9.9px;font-weight:700;color:#1a1a1a;left:537.88px;transform-origin:50% 0;transform:translateX(-50%) scaleX(1.1200)">18</span>
<span class="t k" style="top:545.44px;font-size:9.9px;font-weight:700;color:#1a1a1a;left:567.22px;transform-origin:50% 0;transform:translateX(-50%) scaleX(1.1200)">19</span>
<span class="t k" style="top:545.44px;font-size:9.9px;font-weight:700;color:#1a1a1a;left:596.57px;transform-origin:50% 0;transform:translateX(-50%) scaleX(1.1200)">20</span>
<span class="t k" style="top:545.44px;font-size:9.9px;font-weight:700;color:#1a1a1a;left:625.92px;transform-origin:50% 0;transform:translateX(-50%) scaleX(1.1200)">21</span>
<span class="t k" style="top:545.44px;font-size:9.9px;font-weight:700;color:#e8381b;left:655.27px;transform-origin:50% 0;transform:translateX(-50%) scaleX(1.1200)">22</span>
<span class="t k" style="top:559.08px;font-size:9.9px;font-weight:700;color:#1a1a1a;left:479.18px;transform-origin:50% 0;transform:translateX(-50%) scaleX(1.1200)">23</span>
<span class="t k" style="top:559.08px;font-size:9.9px;font-weight:700;color:#1a1a1a;left:508.53px;transform-origin:50% 0;transform:translateX(-50%) scaleX(1.1200)">24</span>
<span class="t k" style="top:559.08px;font-size:9.9px;font-weight:700;color:#1a1a1a;left:537.88px;transform-origin:50% 0;transform:translateX(-50%) scaleX(1.1200)">25</span>
<span class="t k" style="top:559.08px;font-size:9.9px;font-weight:700;color:#1a1a1a;left:567.22px;transform-origin:50% 0;transform:translateX(-50%) scaleX(1.1200)">26</span>
<span class="t k" style="top:559.08px;font-size:9.9px;font-weight:700;color:#1a1a1a;left:596.57px;transform-origin:50% 0;transform:translateX(-50%) scaleX(1.1200)">27</span>
<span class="t k" style="top:559.08px;font-size:9.9px;font-weight:700;color:#1a1a1a;left:625.92px;transform-origin:50% 0;transform:translateX(-50%) scaleX(1.1200)">28</span>
<svg class="cal" style="left:5.60px;top:593.90px" width="209.45" height="114.54" viewBox="-2 -2 209.45 114.54"><rect x="0" y="0" width="205.45" height="110.54" fill="#fff"/><rect x="0" y="14.10" width="205.45" height="13.10" fill="#3f5f99"/><path d="M29.35 14.10v13.10M58.70 14.10v13.10M88.05 14.10v13.10M117.40 14.10v13.10M146.75 14.10v13.10M176.10 14.10v13.10" stroke="#cfdaf0" stroke-width="1.2" fill="none"/><path d="M29.35 27.20v13.64M58.70 27.20v13.64M88.05 27.20v13.64M117.40 27.20v13.64M146.75 27.20v13.64M176.10 27.20v13.64M29.35 40.84v13.64M58.70 40.84v13.64M88.05 40.84v13.64M117.40 40.84v13.64M146.75 40.84v13.64M176.10 40.84v13.64M0 40.84h205.45M29.35 54.48v13.64M58.70 54.48v13.64M88.05 54.48v13.64M117.40 54.48v13.64M146.75 54.48v13.64M176.10 54.48v13.64M0 54.48h205.45M29.35 68.12v13.64M58.70 68.12v13.64M88.05 68.12v13.64M117.40 68.12v13.64M146.75 68.12v13.64M176.10 68.12v13.64M0 68.12h205.45M29.35 81.76v13.64M58.70 81.76v13.64M88.05 81.76v13.64M117.40 81.76v13.64M146.75 81.76v13.64M176.10 81.76v13.64M0 81.76h205.45M29.35 95.40v13.64M0 95.40h205.45" stroke="#d3d9ee" stroke-width="1.3" fill="none"/><rect x="0" y="0.6" width="205.45" height="109.94" fill="none" stroke="#8aa0cd" stroke-width="1.2"/><rect x="176.10" y="27.20" width="29.35" height="13.64" fill="#8cc63f" stroke="#111" stroke-width="1.9"/><rect x="146.75" y="40.84" width="29.35" height="13.64" fill="#8cc63f" stroke="#111" stroke-width="1.9"/><rect x="176.10" y="40.84" width="29.35" height="13.64" fill="#8cc63f" stroke="#111" stroke-width="1.9"/><rect x="146.75" y="54.48" width="29.35" height="13.64" fill="#8cc63f" stroke="#111" stroke-width="1.9"/><rect x="176.10" y="54.48" width="29.35" height="13.64" fill="#8cc63f" stroke="#111" stroke-width="1.9"/><rect x="146.75" y="68.12" width="29.35" height="13.64" fill="#8cc63f" stroke="#111" stroke-width="1.9"/><rect x="176.10" y="68.12" width="29.35" height="13.64" fill="#8cc63f" stroke="#111" stroke-width="1.9"/><rect x="146.75" y="81.76" width="29.35" height="13.64" fill="#8cc63f" stroke="#111" stroke-width="1.9"/><rect x="176.10" y="81.76" width="29.35" height="13.64" fill="#8cc63f" stroke="#111" stroke-width="1.9"/><path d="M30.15 96.20h4.6l-4.6 4.6z" fill="#1e8449"/></svg>
<span class="t k" style="top:598.57px;font-size:10.9px;font-weight:700;left:111.33px;transform-origin:50% 0;transform:translateX(-50%) scaleX(1.2880)">Marzo 2026</span>
<span class="t" style="top:612.51px;font-size:9.2px;font-weight:700;color:#fff;letter-spacing:0.3px;left:23.27px;transform-origin:50% 0;transform:translateX(-50%) scaleX(1.2300)">Lun</span>
<span class="t" style="top:612.51px;font-size:9.2px;font-weight:700;color:#fff;letter-spacing:0.3px;left:52.63px;transform-origin:50% 0;transform:translateX(-50%) scaleX(1.2300)">Mar</span>
<span class="t" style="top:612.51px;font-size:9.2px;font-weight:700;color:#fff;letter-spacing:0.3px;left:81.97px;transform-origin:50% 0;transform:translateX(-50%) scaleX(1.2300)">Mer</span>
<span class="t" style="top:612.51px;font-size:9.2px;font-weight:700;color:#fff;letter-spacing:0.3px;left:111.33px;transform-origin:50% 0;transform:translateX(-50%) scaleX(1.2300)">Gio</span>
<span class="t" style="top:612.51px;font-size:9.2px;font-weight:700;color:#fff;letter-spacing:0.3px;left:140.68px;transform-origin:50% 0;transform:translateX(-50%) scaleX(1.2300)">Ven</span>
<span class="t" style="top:612.51px;font-size:9.2px;font-weight:700;color:#fff;letter-spacing:0.3px;left:170.03px;transform-origin:50% 0;transform:translateX(-50%) scaleX(1.2300)">Sab</span>
<span class="t" style="top:612.79px;font-size:8.4px;font-weight:700;color:#fff;left:198.38px;transform-origin:50% 0;transform:translateX(-50%) scaleX(1.2107)">Dom</span>
<span class="t k" style="top:625.32px;font-size:9.9px;font-weight:700;color:#e8381b;left:198.68px;transform-origin:50% 0;transform:translateX(-50%) scaleX(1.1200)">1</span>
<span class="t k" style="top:638.96px;font-size:9.9px;font-weight:700;color:#1a1a1a;left:22.57px;transform-origin:50% 0;transform:translateX(-50%) scaleX(1.1200)">2</span>
<span class="t k" style="top:638.96px;font-size:9.9px;font-weight:700;color:#1a1a1a;left:51.93px;transform-origin:50% 0;transform:translateX(-50%) scaleX(1.1200)">3</span>
<span class="t k" style="top:638.96px;font-size:9.9px;font-weight:700;color:#1a1a1a;left:81.27px;transform-origin:50% 0;transform:translateX(-50%) scaleX(1.1200)">4</span>
<span class="t k" style="top:638.96px;font-size:9.9px;font-weight:700;color:#1a1a1a;left:110.62px;transform-origin:50% 0;transform:translateX(-50%) scaleX(1.1200)">5</span>
<span class="t k" style="top:638.96px;font-size:9.9px;font-weight:700;color:#1a1a1a;left:139.98px;transform-origin:50% 0;transform:translateX(-50%) scaleX(1.1200)">6</span>
<span class="t k" style="top:638.96px;font-size:9.9px;font-weight:700;color:#1a1a1a;left:169.33px;transform-origin:50% 0;transform:translateX(-50%) scaleX(1.1200)">7</span>
<span class="t k" style="top:638.96px;font-size:9.9px;font-weight:700;color:#e8381b;left:198.68px;transform-origin:50% 0;transform:translateX(-50%) scaleX(1.1200)">8</span>
<span class="t k" style="top:652.60px;font-size:9.9px;font-weight:700;color:#1a1a1a;left:22.57px;transform-origin:50% 0;transform:translateX(-50%) scaleX(1.1200)">9</span>
<span class="t k" style="top:652.60px;font-size:9.9px;font-weight:700;color:#1a1a1a;left:51.93px;transform-origin:50% 0;transform:translateX(-50%) scaleX(1.1200)">10</span>
<span class="t k" style="top:652.60px;font-size:9.9px;font-weight:700;color:#1a1a1a;left:81.27px;transform-origin:50% 0;transform:translateX(-50%) scaleX(1.1200)">11</span>
<span class="t k" style="top:652.60px;font-size:9.9px;font-weight:700;color:#1a1a1a;left:110.62px;transform-origin:50% 0;transform:translateX(-50%) scaleX(1.1200)">12</span>
<span class="t k" style="top:652.60px;font-size:9.9px;font-weight:700;color:#1a1a1a;left:139.98px;transform-origin:50% 0;transform:translateX(-50%) scaleX(1.1200)">13</span>
<span class="t k" style="top:652.60px;font-size:9.9px;font-weight:700;color:#1a1a1a;left:169.33px;transform-origin:50% 0;transform:translateX(-50%) scaleX(1.1200)">14</span>
<span class="t k" style="top:652.60px;font-size:9.9px;font-weight:700;color:#e8381b;left:198.68px;transform-origin:50% 0;transform:translateX(-50%) scaleX(1.1200)">15</span>
<span class="t k" style="top:666.24px;font-size:9.9px;font-weight:700;color:#1a1a1a;left:22.57px;transform-origin:50% 0;transform:translateX(-50%) scaleX(1.1200)">16</span>
<span class="t k" style="top:666.24px;font-size:9.9px;font-weight:700;color:#1a1a1a;left:51.93px;transform-origin:50% 0;transform:translateX(-50%) scaleX(1.1200)">17</span>
<span class="t k" style="top:666.24px;font-size:9.9px;font-weight:700;color:#1a1a1a;left:81.27px;transform-origin:50% 0;transform:translateX(-50%) scaleX(1.1200)">18</span>
<span class="t k" style="top:666.24px;font-size:9.9px;font-weight:700;color:#1a1a1a;left:110.62px;transform-origin:50% 0;transform:translateX(-50%) scaleX(1.1200)">19</span>
<span class="t k" style="top:666.24px;font-size:9.9px;font-weight:700;color:#1a1a1a;left:139.98px;transform-origin:50% 0;transform:translateX(-50%) scaleX(1.1200)">20</span>
<span class="t k" style="top:666.24px;font-size:9.9px;font-weight:700;color:#1a1a1a;left:169.33px;transform-origin:50% 0;transform:translateX(-50%) scaleX(1.1200)">21</span>
<span class="t k" style="top:666.24px;font-size:9.9px;font-weight:700;color:#e8381b;left:198.68px;transform-origin:50% 0;transform:translateX(-50%) scaleX(1.1200)">22</span>
<span class="t k" style="top:679.88px;font-size:9.9px;font-weight:700;color:#1a1a1a;left:22.57px;transform-origin:50% 0;transform:translateX(-50%) scaleX(1.1200)">23</span>
<span class="t k" style="top:679.88px;font-size:9.9px;font-weight:700;color:#1a1a1a;left:51.93px;transform-origin:50% 0;transform:translateX(-50%) scaleX(1.1200)">24</span>
<span class="t k" style="top:679.88px;font-size:9.9px;font-weight:700;color:#1a1a1a;left:81.27px;transform-origin:50% 0;transform:translateX(-50%) scaleX(1.1200)">25</span>
<span class="t k" style="top:679.88px;font-size:9.9px;font-weight:700;color:#1a1a1a;left:110.62px;transform-origin:50% 0;transform:translateX(-50%) scaleX(1.1200)">26</span>
<span class="t k" style="top:679.88px;font-size:9.9px;font-weight:700;color:#1a1a1a;left:139.98px;transform-origin:50% 0;transform:translateX(-50%) scaleX(1.1200)">27</span>
<span class="t k" style="top:679.88px;font-size:9.9px;font-weight:700;color:#1a1a1a;left:169.33px;transform-origin:50% 0;transform:translateX(-50%) scaleX(1.1200)">28</span>
<span class="t k" style="top:679.88px;font-size:9.9px;font-weight:700;color:#e8381b;left:198.68px;transform-origin:50% 0;transform:translateX(-50%) scaleX(1.1200)">29</span>
<span class="t k" style="top:693.52px;font-size:9.9px;font-weight:700;color:#1a1a1a;left:22.57px;transform-origin:50% 0;transform:translateX(-50%) scaleX(1.1200)">30</span>
<span class="t k" style="top:693.52px;font-size:9.9px;font-weight:700;color:#1a1a1a;left:51.93px;transform-origin:50% 0;transform:translateX(-50%) scaleX(1.1200)">31</span>
<svg class="cal" style="left:234.00px;top:593.90px" width="209.45" height="99.40" viewBox="-2 -2 209.45 99.40"><rect x="0" y="0" width="205.45" height="95.40" fill="#fff"/><rect x="0" y="14.10" width="205.45" height="13.10" fill="#3f5f99"/><path d="M29.35 14.10v13.10M58.70 14.10v13.10M88.05 14.10v13.10M117.40 14.10v13.10M146.75 14.10v13.10M176.10 14.10v13.10" stroke="#cfdaf0" stroke-width="1.2" fill="none"/><path d="M29.35 27.20v13.64M58.70 27.20v13.64M88.05 27.20v13.64M117.40 27.20v13.64M146.75 27.20v13.64M176.10 27.20v13.64M29.35 40.84v13.64M58.70 40.84v13.64M88.05 40.84v13.64M117.40 40.84v13.64M146.75 40.84v13.64M176.10 40.84v13.64M0 40.84h205.45M29.35 54.48v13.64M58.70 54.48v13.64M88.05 54.48v13.64M117.40 54.48v13.64M146.75 54.48v13.64M176.10 54.48v13.64M0 54.48h205.45M29.35 68.12v13.64M58.70 68.12v13.64M88.05 68.12v13.64M117.40 68.12v13.64M146.75 68.12v13.64M176.10 68.12v13.64M0 68.12h205.45M29.35 81.76v13.64M58.70 81.76v13.64M88.05 81.76v13.64M117.40 81.76v13.64M146.75 81.76v13.64M176.10 81.76v13.64M0 81.76h205.45" stroke="#d3d9ee" stroke-width="1.3" fill="none"/><rect x="0" y="0.6" width="205.45" height="94.80" fill="none" stroke="#8aa0cd" stroke-width="1.2"/><rect x="88.05" y="27.20" width="29.35" height="13.64" fill="#8cc63f" stroke="#111" stroke-width="1.9"/><rect x="117.40" y="27.20" width="29.35" height="13.64" fill="#8cc63f" stroke="#111" stroke-width="1.9"/><rect x="146.75" y="27.20" width="29.35" height="13.64" fill="#8cc63f" stroke="#111" stroke-width="1.9"/><rect x="176.10" y="27.20" width="29.35" height="13.64" fill="#8cc63f" stroke="#111" stroke-width="1.9"/><rect x="0.00" y="40.84" width="29.35" height="13.64" fill="#8cc63f" stroke="#111" stroke-width="1.9"/><path d="M88.85 82.56h4.6l-4.6 4.6z" fill="#1e8449"/></svg>
<span class="t k" style="top:598.57px;font-size:10.9px;font-weight:700;left:339.73px;transform-origin:50% 0;transform:translateX(-50%) scaleX(1.2880)">Aprile 2026</span>
<span class="t" style="top:612.51px;font-size:9.2px;font-weight:700;color:#fff;letter-spacing:0.3px;left:251.68px;transform-origin:50% 0;transform:translateX(-50%) scaleX(1.2300)">Lun</span>
<span class="t" style="top:612.51px;font-size:9.2px;font-weight:700;color:#fff;letter-spacing:0.3px;left:281.02px;transform-origin:50% 0;transform:translateX(-50%) scaleX(1.2300)">Mar</span>
<span class="t" style="top:612.51px;font-size:9.2px;font-weight:700;color:#fff;letter-spacing:0.3px;left:310.38px;transform-origin:50% 0;transform:translateX(-50%) scaleX(1.2300)">Mer</span>
<span class="t" style="top:612.51px;font-size:9.2px;font-weight:700;color:#fff;letter-spacing:0.3px;left:339.73px;transform-origin:50% 0;transform:translateX(-50%) scaleX(1.2300)">Gio</span>
<span class="t" style="top:612.51px;font-size:9.2px;font-weight:700;color:#fff;letter-spacing:0.3px;left:369.08px;transform-origin:50% 0;transform:translateX(-50%) scaleX(1.2300)">Ven</span>
<span class="t" style="top:612.51px;font-size:9.2px;font-weight:700;color:#fff;letter-spacing:0.3px;left:398.43px;transform-origin:50% 0;transform:translateX(-50%) scaleX(1.2300)">Sab</span>
<span class="t" style="top:612.79px;font-size:8.4px;font-weight:700;color:#fff;left:426.77px;transform-origin:50% 0;transform:translateX(-50%) scaleX(1.2107)">Dom</span>
<span class="t k" style="top:625.32px;font-size:9.9px;font-weight:700;color:#1a1a1a;left:309.68px;transform-origin:50% 0;transform:translateX(-50%) scaleX(1.1200)">1</span>
<span class="t k" style="top:625.32px;font-size:9.9px;font-weight:700;color:#1a1a1a;left:339.03px;transform-origin:50% 0;transform:translateX(-50%) scaleX(1.1200)">2</span>
<span class="t k" style="top:625.32px;font-size:9.9px;font-weight:700;color:#1a1a1a;left:368.38px;transform-origin:50% 0;transform:translateX(-50%) scaleX(1.1200)">3</span>
<span class="t k" style="top:625.32px;font-size:9.9px;font-weight:700;color:#1a1a1a;left:397.73px;transform-origin:50% 0;transform:translateX(-50%) scaleX(1.1200)">4</span>
<span class="t k" style="top:625.32px;font-size:9.9px;font-weight:700;color:#e8381b;left:427.07px;transform-origin:50% 0;transform:translateX(-50%) scaleX(1.1200)">5</span>
<span class="t k" style="top:638.96px;font-size:9.9px;font-weight:700;color:#e8381b;left:250.98px;transform-origin:50% 0;transform:translateX(-50%) scaleX(1.1200)">6</span>
<span class="t k" style="top:638.96px;font-size:9.9px;font-weight:700;color:#1a1a1a;left:280.32px;transform-origin:50% 0;transform:translateX(-50%) scaleX(1.1200)">7</span>
<span class="t k" style="top:638.96px;font-size:9.9px;font-weight:700;color:#1a1a1a;left:309.68px;transform-origin:50% 0;transform:translateX(-50%) scaleX(1.1200)">8</span>
<span class="t k" style="top:638.96px;font-size:9.9px;font-weight:700;color:#1a1a1a;left:339.03px;transform-origin:50% 0;transform:translateX(-50%) scaleX(1.1200)">9</span>
<span class="t k" style="top:638.96px;font-size:9.9px;font-weight:700;color:#1a1a1a;left:368.38px;transform-origin:50% 0;transform:translateX(-50%) scaleX(1.1200)">10</span>
<span class="t k" style="top:638.96px;font-size:9.9px;font-weight:700;color:#1a1a1a;left:397.73px;transform-origin:50% 0;transform:translateX(-50%) scaleX(1.1200)">11</span>
<span class="t k" style="top:638.96px;font-size:9.9px;font-weight:700;color:#e8381b;left:427.07px;transform-origin:50% 0;transform:translateX(-50%) scaleX(1.1200)">12</span>
<span class="t k" style="top:652.60px;font-size:9.9px;font-weight:700;color:#1a1a1a;left:250.98px;transform-origin:50% 0;transform:translateX(-50%) scaleX(1.1200)">13</span>
<span class="t k" style="top:652.60px;font-size:9.9px;font-weight:700;color:#1a1a1a;left:280.32px;transform-origin:50% 0;transform:translateX(-50%) scaleX(1.1200)">14</span>
<span class="t k" style="top:652.60px;font-size:9.9px;font-weight:700;color:#1a1a1a;left:309.68px;transform-origin:50% 0;transform:translateX(-50%) scaleX(1.1200)">15</span>
<span class="t k" style="top:652.60px;font-size:9.9px;font-weight:700;color:#1a1a1a;left:339.03px;transform-origin:50% 0;transform:translateX(-50%) scaleX(1.1200)">16</span>
<span class="t k" style="top:652.60px;font-size:9.9px;font-weight:700;color:#1a1a1a;left:368.38px;transform-origin:50% 0;transform:translateX(-50%) scaleX(1.1200)">17</span>
<span class="t k" style="top:652.60px;font-size:9.9px;font-weight:700;color:#1a1a1a;left:397.73px;transform-origin:50% 0;transform:translateX(-50%) scaleX(1.1200)">18</span>
<span class="t k" style="top:652.60px;font-size:9.9px;font-weight:700;color:#e8381b;left:427.07px;transform-origin:50% 0;transform:translateX(-50%) scaleX(1.1200)">19</span>
<span class="t k" style="top:666.24px;font-size:9.9px;font-weight:700;color:#1a1a1a;left:250.98px;transform-origin:50% 0;transform:translateX(-50%) scaleX(1.1200)">20</span>
<span class="t k" style="top:666.24px;font-size:9.9px;font-weight:700;color:#1a1a1a;left:280.32px;transform-origin:50% 0;transform:translateX(-50%) scaleX(1.1200)">21</span>
<span class="t k" style="top:666.24px;font-size:9.9px;font-weight:700;color:#1a1a1a;left:309.68px;transform-origin:50% 0;transform:translateX(-50%) scaleX(1.1200)">22</span>
<span class="t k" style="top:666.24px;font-size:9.9px;font-weight:700;color:#1a1a1a;left:339.03px;transform-origin:50% 0;transform:translateX(-50%) scaleX(1.1200)">23</span>
<span class="t k" style="top:666.24px;font-size:9.9px;font-weight:700;color:#1a1a1a;left:368.38px;transform-origin:50% 0;transform:translateX(-50%) scaleX(1.1200)">24</span>
<span class="t k" style="top:666.24px;font-size:9.9px;font-weight:700;color:#e8381b;left:397.73px;transform-origin:50% 0;transform:translateX(-50%) scaleX(1.1200)">25</span>
<span class="t k" style="top:666.24px;font-size:9.9px;font-weight:700;color:#e8381b;left:427.07px;transform-origin:50% 0;transform:translateX(-50%) scaleX(1.1200)">26</span>
<span class="t k" style="top:679.88px;font-size:9.9px;font-weight:700;color:#1a1a1a;left:250.98px;transform-origin:50% 0;transform:translateX(-50%) scaleX(1.1200)">27</span>
<span class="t k" style="top:679.88px;font-size:9.9px;font-weight:700;color:#1a1a1a;left:280.32px;transform-origin:50% 0;transform:translateX(-50%) scaleX(1.1200)">28</span>
<span class="t k" style="top:679.88px;font-size:9.9px;font-weight:700;color:#1a1a1a;left:309.68px;transform-origin:50% 0;transform:translateX(-50%) scaleX(1.1200)">29</span>
<span class="t k" style="top:679.88px;font-size:9.9px;font-weight:700;color:#1a1a1a;left:339.03px;transform-origin:50% 0;transform:translateX(-50%) scaleX(1.1200)">30</span>
<svg class="cal" style="left:462.20px;top:593.90px" width="209.45" height="99.40" viewBox="-2 -2 209.45 99.40"><rect x="0" y="0" width="205.45" height="95.40" fill="#fff"/><rect x="0" y="14.10" width="205.45" height="13.10" fill="#3f5f99"/><path d="M29.35 14.10v13.10M58.70 14.10v13.10M88.05 14.10v13.10M117.40 14.10v13.10M146.75 14.10v13.10M176.10 14.10v13.10" stroke="#cfdaf0" stroke-width="1.2" fill="none"/><path d="M29.35 27.20v13.64M58.70 27.20v13.64M88.05 27.20v13.64M117.40 27.20v13.64M146.75 27.20v13.64M176.10 27.20v13.64M29.35 40.84v13.64M58.70 40.84v13.64M88.05 40.84v13.64M117.40 40.84v13.64M146.75 40.84v13.64M176.10 40.84v13.64M0 40.84h205.45M29.35 54.48v13.64M58.70 54.48v13.64M88.05 54.48v13.64M117.40 54.48v13.64M146.75 54.48v13.64M176.10 54.48v13.64M0 54.48h205.45M29.35 68.12v13.64M58.70 68.12v13.64M88.05 68.12v13.64M117.40 68.12v13.64M146.75 68.12v13.64M176.10 68.12v13.64M0 68.12h205.45M29.35 81.76v13.64M58.70 81.76v13.64M88.05 81.76v13.64M0 81.76h205.45" stroke="#d3d9ee" stroke-width="1.3" fill="none"/><rect x="0" y="0.6" width="205.45" height="94.80" fill="none" stroke="#8aa0cd" stroke-width="1.2"/><rect x="146.75" y="27.20" width="29.35" height="13.64" fill="#8cc63f" stroke="#111" stroke-width="1.9"/><rect x="176.10" y="27.20" width="29.35" height="13.64" fill="#8cc63f" stroke="#111" stroke-width="1.9"/><rect x="0.00" y="40.84" width="29.35" height="13.64" fill="#8cc63f" stroke="#111" stroke-width="1.9"/><rect x="29.35" y="40.84" width="29.35" height="13.64" fill="#8cc63f" stroke="#111" stroke-width="1.9"/><rect x="146.75" y="40.84" width="29.35" height="13.64" fill="#8cc63f" stroke="#111" stroke-width="1.9"/><rect x="176.10" y="40.84" width="29.35" height="13.64" fill="#8cc63f" stroke="#111" stroke-width="1.9"/><rect x="146.75" y="54.48" width="29.35" height="13.64" fill="#8cc63f" stroke="#111" stroke-width="1.9"/><rect x="176.10" y="54.48" width="29.35" height="13.64" fill="#8cc63f" stroke="#111" stroke-width="1.9"/><rect x="0.00" y="68.12" width="29.35" height="13.64" fill="#8cc63f" stroke="#111" stroke-width="1.9"/><rect x="29.35" y="68.12" width="29.35" height="13.64" fill="#8cc63f" stroke="#111" stroke-width="1.9"/><rect x="58.70" y="68.12" width="29.35" height="13.64" fill="#8cc63f" stroke="#111" stroke-width="1.9"/><rect x="88.05" y="68.12" width="29.35" height="13.64" fill="#8cc63f" stroke="#111" stroke-width="1.9"/><rect x="146.75" y="68.12" width="29.35" height="13.64" fill="#8cc63f" stroke="#111" stroke-width="1.9"/><rect x="176.10" y="68.12" width="29.35" height="13.64" fill="#8cc63f" stroke="#111" stroke-width="1.9"/><rect x="0.00" y="81.76" width="29.35" height="13.64" fill="#8cc63f" stroke="#111" stroke-width="1.9"/><rect x="29.35" y="81.76" width="29.35" height="13.64" fill="#8cc63f" stroke="#111" stroke-width="1.9"/><rect x="58.70" y="81.76" width="29.35" height="13.64" fill="#8cc63f" stroke="#111" stroke-width="1.9"/><rect x="88.05" y="81.76" width="29.35" height="13.64" fill="#8cc63f" stroke="#111" stroke-width="1.9"/><path d="M88.85 82.56h4.6l-4.6 4.6z" fill="#1e8449"/></svg>
<span class="t k" style="top:598.57px;font-size:10.9px;font-weight:700;left:567.92px;transform-origin:50% 0;transform:translateX(-50%) scaleX(1.2880)">Dicembre 2026</span>
<span class="t" style="top:612.51px;font-size:9.2px;font-weight:700;color:#fff;letter-spacing:0.3px;left:479.88px;transform-origin:50% 0;transform:translateX(-50%) scaleX(1.2300)">Lun</span>
<span class="t" style="top:612.51px;font-size:9.2px;font-weight:700;color:#fff;letter-spacing:0.3px;left:509.23px;transform-origin:50% 0;transform:translateX(-50%) scaleX(1.2300)">Mar</span>
<span class="t" style="top:612.51px;font-size:9.2px;font-weight:700;color:#fff;letter-spacing:0.3px;left:538.58px;transform-origin:50% 0;transform:translateX(-50%) scaleX(1.2300)">Mer</span>
<span class="t" style="top:612.51px;font-size:9.2px;font-weight:700;color:#fff;letter-spacing:0.3px;left:567.92px;transform-origin:50% 0;transform:translateX(-50%) scaleX(1.2300)">Gio</span>
<span class="t" style="top:612.51px;font-size:9.2px;font-weight:700;color:#fff;letter-spacing:0.3px;left:597.27px;transform-origin:50% 0;transform:translateX(-50%) scaleX(1.2300)">Ven</span>
<span class="t" style="top:612.51px;font-size:9.2px;font-weight:700;color:#fff;letter-spacing:0.3px;left:626.62px;transform-origin:50% 0;transform:translateX(-50%) scaleX(1.2300)">Sab</span>
<span class="t" style="top:612.79px;font-size:8.4px;font-weight:700;color:#fff;left:654.98px;transform-origin:50% 0;transform:translateX(-50%) scaleX(1.2107)">Dom</span>
<span class="t k" style="top:625.32px;font-size:9.9px;font-weight:700;color:#1a1a1a;left:508.53px;transform-origin:50% 0;transform:translateX(-50%) scaleX(1.1200)">1</span>
<span class="t k" style="top:625.32px;font-size:9.9px;font-weight:700;color:#1a1a1a;left:537.88px;transform-origin:50% 0;transform:translateX(-50%) scaleX(1.1200)">2</span>
<span class="t k" style="top:625.32px;font-size:9.9px;font-weight:700;color:#1a1a1a;left:567.22px;transform-origin:50% 0;transform:translateX(-50%) scaleX(1.1200)">3</span>
<span class="t k" style="top:625.32px;font-size:9.9px;font-weight:700;color:#1a1a1a;left:596.57px;transform-origin:50% 0;transform:translateX(-50%) scaleX(1.1200)">4</span>
<span class="t k" style="top:625.32px;font-size:9.9px;font-weight:700;color:#1a1a1a;left:625.92px;transform-origin:50% 0;transform:translateX(-50%) scaleX(1.1200)">5</span>
<span class="t k" style="top:625.32px;font-size:9.9px;font-weight:700;color:#e8381b;left:655.27px;transform-origin:50% 0;transform:translateX(-50%) scaleX(1.1200)">6</span>
<span class="t k" style="top:638.96px;font-size:9.9px;font-weight:700;color:#1a1a1a;left:479.18px;transform-origin:50% 0;transform:translateX(-50%) scaleX(1.1200)">7</span>
<span class="t k" style="top:638.96px;font-size:9.9px;font-weight:700;color:#e8381b;left:508.53px;transform-origin:50% 0;transform:translateX(-50%) scaleX(1.1200)">8</span>
<span class="t k" style="top:638.96px;font-size:9.9px;font-weight:700;color:#1a1a1a;left:537.88px;transform-origin:50% 0;transform:translateX(-50%) scaleX(1.1200)">9</span>
<span class="t k" style="top:638.96px;font-size:9.9px;font-weight:700;color:#1a1a1a;left:567.22px;transform-origin:50% 0;transform:translateX(-50%) scaleX(1.1200)">10</span>
<span class="t k" style="top:638.96px;font-size:9.9px;font-weight:700;color:#1a1a1a;left:596.57px;transform-origin:50% 0;transform:translateX(-50%) scaleX(1.1200)">11</span>
<span class="t k" style="top:638.96px;font-size:9.9px;font-weight:700;color:#1a1a1a;left:625.92px;transform-origin:50% 0;transform:translateX(-50%) scaleX(1.1200)">12</span>
<span class="t k" style="top:638.96px;font-size:9.9px;font-weight:700;color:#e8381b;left:655.27px;transform-origin:50% 0;transform:translateX(-50%) scaleX(1.1200)">13</span>
<span class="t k" style="top:652.60px;font-size:9.9px;font-weight:700;color:#1a1a1a;left:479.18px;transform-origin:50% 0;transform:translateX(-50%) scaleX(1.1200)">14</span>
<span class="t k" style="top:652.60px;font-size:9.9px;font-weight:700;color:#1a1a1a;left:508.53px;transform-origin:50% 0;transform:translateX(-50%) scaleX(1.1200)">15</span>
<span class="t k" style="top:652.60px;font-size:9.9px;font-weight:700;color:#1a1a1a;left:537.88px;transform-origin:50% 0;transform:translateX(-50%) scaleX(1.1200)">16</span>
<span class="t k" style="top:652.60px;font-size:9.9px;font-weight:700;color:#1a1a1a;left:567.22px;transform-origin:50% 0;transform:translateX(-50%) scaleX(1.1200)">17</span>
<span class="t k" style="top:652.60px;font-size:9.9px;font-weight:700;color:#1a1a1a;left:596.57px;transform-origin:50% 0;transform:translateX(-50%) scaleX(1.1200)">18</span>
<span class="t k" style="top:652.60px;font-size:9.9px;font-weight:700;color:#1a1a1a;left:625.92px;transform-origin:50% 0;transform:translateX(-50%) scaleX(1.1200)">19</span>
<span class="t k" style="top:652.60px;font-size:9.9px;font-weight:700;color:#e8381b;left:655.27px;transform-origin:50% 0;transform:translateX(-50%) scaleX(1.1200)">20</span>
<span class="t k" style="top:666.24px;font-size:9.9px;font-weight:700;color:#1a1a1a;left:479.18px;transform-origin:50% 0;transform:translateX(-50%) scaleX(1.1200)">21</span>
<span class="t k" style="top:666.24px;font-size:9.9px;font-weight:700;color:#1a1a1a;left:508.53px;transform-origin:50% 0;transform:translateX(-50%) scaleX(1.1200)">22</span>
<span class="t k" style="top:666.24px;font-size:9.9px;font-weight:700;color:#1a1a1a;left:537.88px;transform-origin:50% 0;transform:translateX(-50%) scaleX(1.1200)">23</span>
<span class="t k" style="top:666.24px;font-size:9.9px;font-weight:700;color:#1a1a1a;left:567.22px;transform-origin:50% 0;transform:translateX(-50%) scaleX(1.1200)">24</span>
<span class="t k" style="top:666.24px;font-size:9.9px;font-weight:700;color:#e8381b;left:596.57px;transform-origin:50% 0;transform:translateX(-50%) scaleX(1.1200)">25</span>
<span class="t k" style="top:666.24px;font-size:9.9px;font-weight:700;color:#e8381b;left:625.92px;transform-origin:50% 0;transform:translateX(-50%) scaleX(1.1200)">26</span>
<span class="t k" style="top:666.24px;font-size:9.9px;font-weight:700;color:#e8381b;left:655.27px;transform-origin:50% 0;transform:translateX(-50%) scaleX(1.1200)">27</span>
<span class="t k" style="top:679.88px;font-size:9.9px;font-weight:700;color:#1a1a1a;left:479.18px;transform-origin:50% 0;transform:translateX(-50%) scaleX(1.1200)">28</span>
<span class="t k" style="top:679.88px;font-size:9.9px;font-weight:700;color:#1a1a1a;left:508.53px;transform-origin:50% 0;transform:translateX(-50%) scaleX(1.1200)">29</span>
<span class="t k" style="top:679.88px;font-size:9.9px;font-weight:700;color:#1a1a1a;left:537.88px;transform-origin:50% 0;transform:translateX(-50%) scaleX(1.1200)">30</span>
<span class="t k" style="top:679.88px;font-size:9.9px;font-weight:700;color:#1a1a1a;left:567.22px;transform-origin:50% 0;transform:translateX(-50%) scaleX(1.1200)">31</span>
</section>
<section id="tariffe">
<div class="r" style="left:780.10px;top:424.90px;width:235.90px;height:20.10px;background:#d9dadb;"></div>
<span class="t" style="top:430.03px;font-size:10.6px;font-weight:700;left:898.80px;transform-origin:50% 0;transform:translateX(-50%) scaleX(0.7415)">TARIFFE</span>
<span class="t" style="top:467.95px;font-size:11.4px;color:#333;left:941.40px;transform-origin:50% 0;transform:translateX(-50%) scaleX(0.8381)">Credito</span>
<span class="t" style="top:483.55px;font-size:11.4px;color:#333;left:940.80px;transform-origin:50% 0;transform:translateX(-50%) scaleX(0.9033)">trasporti</span>
<span class="t" style="top:467.95px;font-size:11.4px;color:#333;left:991.10px;transform-origin:50% 0;transform:translateX(-50%) scaleX(0.8679)">Acquistato</span>
<span class="t" style="top:483.55px;font-size:11.4px;color:#333;left:991.00px;transform-origin:50% 0;transform:translateX(-50%) scaleX(0.8638)">a bordo</span>
<div class="r" style="left:780.10px;top:495.80px;width:235.90px;height:20.90px;background:#d9dadb;"></div>
<span class="t" style="top:501.85px;font-size:11.4px;color:#2a2a2a;left:781.80px;transform-origin:0 0;transform:scaleX(0.8400)">Mondovì - Villanova</span>
<span class="t" style="top:501.85px;font-size:11.4px;color:#2a2a2a;left:941.20px;transform-origin:50% 0;transform:translateX(-50%) scaleX(0.8235)">2,30 €</span>
<span class="t" style="top:501.85px;font-size:11.4px;color:#2a2a2a;left:991.20px;transform-origin:50% 0;transform:translateX(-50%) scaleX(0.8235)">3,30 €</span>
<span class="t" style="top:521.30px;font-size:11.4px;color:#2a2a2a;left:781.80px;transform-origin:0 0;transform:scaleX(0.8400)">Mondovì - Frabosa Sottana</span>
<span class="t" style="top:521.30px;font-size:11.4px;color:#2a2a2a;left:941.20px;transform-origin:50% 0;transform:translateX(-50%) scaleX(0.8235)">2,60 €</span>
<span class="t" style="top:521.30px;font-size:11.4px;color:#2a2a2a;left:991.20px;transform-origin:50% 0;transform:translateX(-50%) scaleX(0.8235)">3,60 €</span>
<div class="r" style="left:780.10px;top:534.10px;width:235.90px;height:20.90px;background:#d9dadb;"></div>
<span class="t" style="top:540.75px;font-size:11.4px;color:#2a2a2a;left:781.80px;transform-origin:0 0;transform:scaleX(0.8400)">Mondovì - Miroglio</span>
<span class="t" style="top:540.75px;font-size:11.4px;color:#2a2a2a;left:941.20px;transform-origin:50% 0;transform:translateX(-50%) scaleX(0.8235)">3,30 €</span>
<span class="t" style="top:540.75px;font-size:11.4px;color:#2a2a2a;left:991.20px;transform-origin:50% 0;transform:translateX(-50%) scaleX(0.8235)">4,30 €</span>
<span class="t" style="top:560.20px;font-size:11.4px;color:#2a2a2a;left:781.80px;transform-origin:0 0;transform:scaleX(0.8400)">Mondovì - Artesina</span>
<span class="t" style="top:560.20px;font-size:11.4px;color:#2a2a2a;left:941.20px;transform-origin:50% 0;transform:translateX(-50%) scaleX(0.8235)">3,70 €</span>
<span class="t" style="top:560.20px;font-size:11.4px;color:#2a2a2a;left:991.20px;transform-origin:50% 0;transform:translateX(-50%) scaleX(0.8235)">4,70 €</span>
<div class="r" style="left:780.10px;top:573.20px;width:235.90px;height:20.90px;background:#d9dadb;"></div>
<span class="t" style="top:578.85px;font-size:11.4px;color:#2a2a2a;left:781.80px;transform-origin:0 0;transform:scaleX(0.8400)">Mondovì - Pratonevoso</span>
<span class="t" style="top:578.85px;font-size:11.4px;color:#2a2a2a;left:941.20px;transform-origin:50% 0;transform:translateX(-50%) scaleX(0.8235)">4,30 €</span>
<span class="t" style="top:578.85px;font-size:11.4px;color:#2a2a2a;left:991.20px;transform-origin:50% 0;transform:translateX(-50%) scaleX(0.8235)">5,30 €</span>
</section>
<section id="logos">
<svg class="r" style="left:810px;top:600px" width="218" height="115" viewBox="810 600 218 115">
 <g font-family="Liberation Sans, sans-serif" font-weight="700">
 <text y="637.8" font-size="38.6" fill="#24397d"><tspan x="848.6" textLength="36.5" lengthAdjust="spacingAndGlyphs">B</tspan><tspan x="882.2" font-weight="400" stroke="#24397d" stroke-width="0.7" textLength="65.6" lengthAdjust="spacingAndGlyphs">U</tspan><tspan x="945.6" textLength="32.5" lengthAdjust="spacingAndGlyphs">S</tspan></text>
 <circle cx="904.9" cy="615.3" r="4.6" fill="#f7b92f"/><circle cx="924.6" cy="615.3" r="4.6" fill="#f7b92f"/>
 <text x="849" y="656.2" font-weight="400" font-size="13.7" fill="#d4127c" textLength="125.5" lengthAdjust="spacingAndGlyphs">COMPANY</text>
 <text x="816.8" y="691.7" font-size="31.6" fill="#8dc63f" textLength="112.5" lengthAdjust="spacingAndGlyphs">granda</text>
 <text x="975" y="691.3" font-size="23" fill="#6a1f6e" textLength="36.4" lengthAdjust="spacingAndGlyphs">us</text>
 </g>
 <g fill="none" stroke="#6a1f6e" stroke-width="4.1" stroke-linecap="round">
  <path d="M937.7 672.5V687.5C937.7 694 944 696.4 951.3 696.4C957.5 696.4 960.8 694 960.8 690V683"/>
  <circle cx="954.3" cy="686.5" r="6.1"/>
  <path d="M939.3 679.5C944 675.5 950 674.4 955.5 674.7C965.5 675.2 971.6 681 971.5 687.5C971.4 690 970.3 692 968.3 693.4"/>
 </g>
</svg>
</section>

</main>
</body></html>
